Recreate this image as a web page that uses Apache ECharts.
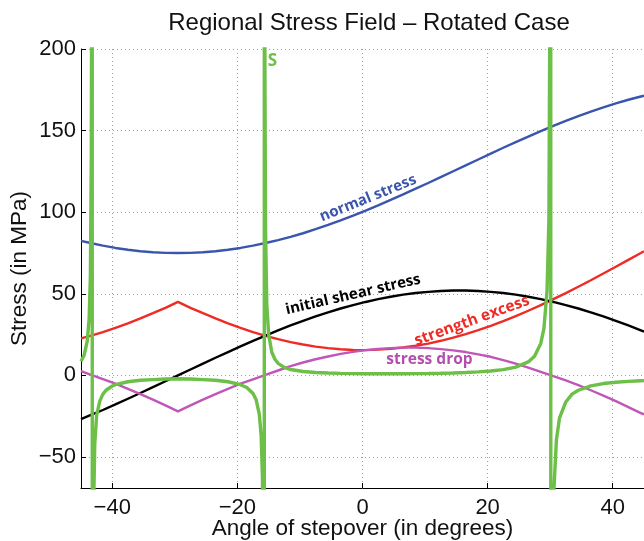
<!DOCTYPE html>
<html><head><meta charset="utf-8">
<script src="https://cdn.jsdelivr.net/npm/echarts@6/dist/echarts.min.js"></script>
<style>html,body{margin:0;padding:0;background:#fff}#c{width:644px;height:541px}</style>
</head><body><div id="c"></div>
<script>
// Angle of stepover (degrees) sample positions for the smooth stress curves
const angles = [-45,-43.5,-41.5,-39.5,-37.5,-35.5,-33.5,-31.5,-29.5,-27.5,-25.5,-23.5,-21.5,-19.5,-17.5,-15.5,-13.5,-11.5,-9.5,-7.5,-5.5,-3.5,-1.5,0.5,2.5,4.5,6.5,8.5,10.5,12.5,14.5,16.5,18.5,20.5,22.5,24.5,26.5,28.5,30.5,32.5,34.5,36.5,38.5,40.5,42.5,44.5,45];
const normalStress = [82.4,81.1,79.5,78.1,77.0,76.1,75.5,75.1,75.0,75.1,75.5,76.1,77.0,78.1,79.5,81.1,82.9,84.9,87.1,89.6,92.2,95.0,97.9,101.0,104.2,107.5,110.9,114.4,117.9,121.5,125.1,128.7,132.3,135.9,139.5,142.9,146.3,149.7,152.9,155.9,158.9,161.6,164.2,166.7,168.9,170.9,171.4];
const shearStress = [-26.8,-24.4,-21.2,-17.8,-14.3,-10.8,-7.2,-3.6,0,3.6,7.2,10.8,14.3,17.8,21.2,24.4,27.6,30.6,33.4,36.1,38.6,41.0,43.1,45.0,46.7,48.2,49.5,50.5,51.2,51.7,52.0,52.0,51.7,51.2,50.5,49.5,48.2,46.7,45.0,43.1,41.0,38.6,36.1,33.4,30.6,27.6,26.8];
const strengthExcess = [22.7,24.2,26.5,29.1,31.9,34.9,38.1,41.4,45.0,41.4,38.1,34.9,31.9,29.1,26.5,24.2,22.2,20.4,18.9,17.6,16.7,16.0,15.6,15.5,15.8,16.3,17.1,18.2,19.5,21.2,23.1,25.3,27.7,30.3,33.2,36.3,39.6,43.1,46.7,50.4,54.3,58.3,62.4,66.6,70.8,75.0,76.1];
const stressDrop = [2.6,0.4,-2.3,-5.1,-8.2,-11.5,-14.9,-18.4,-22.0,-18.4,-14.9,-11.5,-8.2,-5.1,-2.4,0.3,3.0,5.7,7.9,9.9,11.6,13.2,14.4,15.5,16.2,16.7,17.0,17.0,16.7,16.1,15.3,14.3,12.9,11.4,9.3,7.2,4.8,2.2,-0.5,-3.1,-6.0,-9.1,-12.4,-15.8,-19.4,-23.1,-23.9];
// S curve (denser near its poles)
const sAngles = [-45,-44.5,-44,-43.7,-43.5,-43.35,-43.25,-43.22,-43.18,-43.1,-43.0,-42.8,-42.5,-42,-41.5,-41,-40,-39.5,-37.5,-35.5,-33.5,-31.5,-29.5,-27.5,-25.5,-23.5,-21.5,-19.5,-18.5,-17.5,-17,-16.5,-16.2,-16.0,-15.85,-15.75,-15.72,-15.68,-15.6,-15.5,-15.3,-15.0,-14.5,-14,-13.5,-12.5,-11.5,-9.5,-7.5,-5.5,-3.5,-1.5,0.5,2.5,4.5,6.5,8.5,10.5,12.5,14.5,16.5,18.5,20.5,22.5,24.5,26.5,27.5,28.5,29,29.5,29.8,29.95,30.08,30.12,30.25,30.4,30.6,31,31.5,32.5,33.5,34.5,36.5,38.5,40.5,42.5,44.5,45];
const sValues = [8.7,12.4,21.0,34.8,60.6,135,334,900,-900,-167,-85,-42,-24.5,-15.8,-11.5,-9.1,-6.5,-5.7,-3.9,-3.0,-2.6,-2.25,-2.05,-2.25,-2.6,-3.0,-3.9,-5.7,-7.4,-11.1,-15.0,-23.7,-37,-62,-124,-370,-900,900,188,90,43.6,25,14.2,9.9,7.4,4.9,3.6,2.4,1.8,1.43,1.22,1.08,1.0,0.97,0.97,1.0,1.07,1.17,1.31,1.51,1.77,2.14,2.66,3.57,5.04,8.25,11.8,19.6,28.7,51.6,96,227,900,-900,-230,-116,-70,-39.5,-26,-16.3,-11.5,-9.1,-6.4,-5.0,-4.2,-3.65,-3.25,-3.2];
const xTicks = [-40,-20,0,20,40];
const yTicks = [-50,0,50,100,150,200];

const chart = echarts.init(document.getElementById('c'), null, {renderer:'canvas'});
const pair = (xs, ys) => xs.map((x, i) => [x, ys[i]]);
const minus = v => (v < 0 ? '\u2212' + Math.abs(v) : String(v));
const FONT = '"Liberation Sans", Arial, Helvetica, sans-serif';
const LFONT = '"Open Sans", "Noto Sans", sans-serif';

const axisCommon = {
  type: 'value',
  nameMoveOverlap: false,
  axisLine: {show: true, onZero: false, lineStyle: {color: '#000', width: 1}},
  axisTick: {show: true, inside: true, length: 5, lineStyle: {color: '#000'}},
  splitLine: {show: true, lineStyle: {type: [1, 3], color: '#a0a0a0', width: 1}},
  nameTextStyle: {fontFamily: FONT, fontSize: 22.5, color: '#111'}
};

const lineSeries = (name, xs, ys, color, width, z) => ({
  name, type: 'line', data: pair(xs, ys), showSymbol: false, symbol: 'none',
  smooth: false, clip: true, z,
  lineStyle: {color, width}, emphasis: {disabled: true}
});

chart.setOption({
  animation: false,
  backgroundColor: '#fff',
  title: {
    text: 'Regional Stress Field \u2013 Rotated Case',
    left: 364, top: 6, textAlign: 'center',
    textStyle: {fontFamily: FONT, fontSize: 24, fontWeight: 'normal', color: '#111'}
  },
  grid: {left: 81, right: 0, top: 49, bottom: 53, containLabel: false, outerBoundsMode: 'none'},
  xAxis: Object.assign({}, axisCommon, {
    min: -45, max: 45,
    name: 'Angle of stepover (in degrees)', nameLocation: 'middle', nameGap: 29,
    axisLabel: {
      fontFamily: FONT, fontSize: 22, color: '#111', margin: 9,
      formatter: v => (xTicks.indexOf(v) >= 0 ? minus(v) : '')
    }
  }),
  yAxis: Object.assign({}, axisCommon, {
    min: -69, max: 200,
    name: 'Stress (in MPa)', nameLocation: 'middle', nameGap: 50, nameRotate: 90,
    axisLabel: {
      fontFamily: FONT, fontSize: 22, color: '#111', margin: 5,
      formatter: v => (yTicks.indexOf(v) >= 0 ? minus(v) : '')
    }
  }),
  series: [
    lineSeries('normal stress', angles, normalStress, '#3a55ad', 2.4, 2),
    lineSeries('strength excess', angles, strengthExcess, '#ee2b25', 2.4, 3),
    lineSeries('initial shear stress', angles, shearStress, '#000000', 2.4, 4),
    lineSeries('stress drop', angles, stressDrop, '#bf56b8', 2.4, 5),
    lineSeries('S', sAngles, sValues, '#6cbf47', 3.4, 6)
  ]
});

// curve annotations, anchored in data coordinates
const notes = [
  {text: 'normal stress', at: [0.9, 108.5], rot: 22, color: '#3a55ad', size: 15},
  {text: 'initial shear stress', at: [-1.5, 49.5], rot: 13, color: '#000000', size: 15},
  {text: 'strength excess', at: [17.5, 33.5], rot: 20, color: '#ee2b25', size: 15.5},
  {text: 'stress drop', at: [10.7, 9.8], rot: 0, color: '#b24fae', size: 15.5},
  {text: 'S', at: [-14.4, 192.5], rot: 0, color: '#6cbf47', size: 17}
];
chart.setOption({
  graphic: notes.map(n => {
    const p = chart.convertToPixel({gridIndex: 0}, n.at);
    return {
      type: 'text', x: p[0], y: p[1], rotation: n.rot * Math.PI / 180, z: 100,
      style: {text: n.text, fill: n.color, font: 'bold ' + n.size + 'px ' + LFONT, align: 'center', verticalAlign: 'middle'}
    };
  })
});
</script></body></html>
